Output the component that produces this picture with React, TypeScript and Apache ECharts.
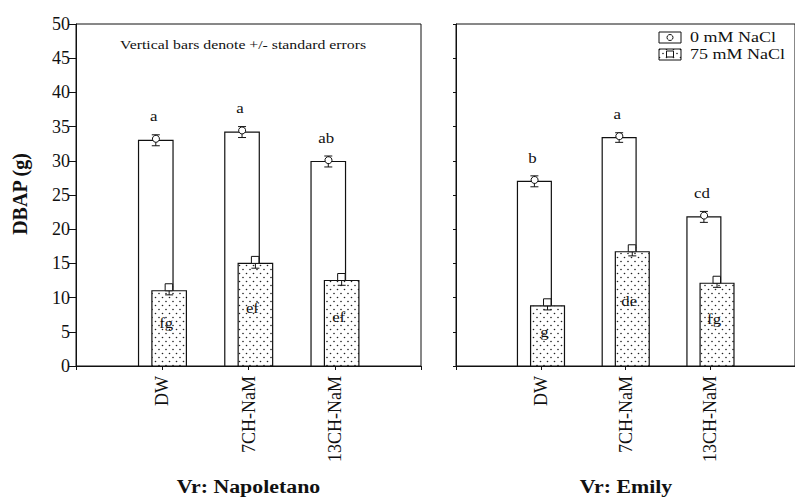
import React, { useEffect, useRef } from "react";
import * as echarts from "echarts";

const categories = ["DW", "7CH-NaM", "13CH-NaM"];
const yMax = 50;
const yInterval = 5;

const napoletano0 = [33.0, 34.2, 29.9];
const napoletano0Err = [0.8, 0.8, 0.8];
const napoletano75 = [11.0, 15.0, 12.5];
const napoletano75Err = [0.6, 0.7, 0.7];
const emily0 = [27.0, 33.4, 21.8];
const emily0Err = [0.8, 0.7, 0.8];
const emily75 = [8.8, 16.7, 12.1];
const emily75Err = [0.6, 0.6, 0.6];

const napoletano0Letters = ["a", "a", "ab"];
const napoletano75Letters = ["fg", "ef", "ef"];
const emily0Letters = ["b", "a", "cd"];
const emily75Letters = ["g", "de", "fg"];

const legendNames = ["0 mM NaCl", "75 mM NaCl"];
const panelTitles = ["Vr: Napoletano", "Vr: Emily"];
const note = "Vertical bars denote +/- standard errors";
const yName = "DBAP (g)";

const FONT = "Liberation Serif";
const INK = "#111";

function makePattern(): HTMLCanvasElement {
  const c = document.createElement("canvas");
  c.width = 7;
  c.height = 8;
  const ctx = c.getContext("2d")!;
  ctx.fillStyle = "#fff";
  ctx.fillRect(0, 0, 7, 8);
  ctx.fillStyle = "#222";
  ctx.beginPath();
  ctx.arc(1.5, 1.5, 0.8, 0, Math.PI * 2);
  ctx.fill();
  ctx.beginPath();
  ctx.arc(5, 5.5, 0.8, 0, Math.PI * 2);
  ctx.fill();
  return c;
}

export default function App() {
  const ref = useRef<HTMLDivElement>(null);
  useEffect(() => {
    if (!ref.current) return;
    const chart = echarts.init(ref.current, undefined, { renderer: "svg" });
    const pattern = makePattern();
    const patternFill: any = { image: pattern, repeat: "repeat" };

    const barSeries = (
      grid: number,
      values: number[],
      errs: number[],
      letters: string[],
      salt: boolean
    ) => ({
      type: "custom",
      xAxisIndex: grid,
      yAxisIndex: grid,
      data: values.map((v, i) => [i + 1, v, errs[i]]),
      renderItem: (params: any, api: any) => {
        const i = api.value(0);
        const v = api.value(1);
        const e = api.value(2);
        const unit = api.size([1, 0])[0];
        const w = unit * 0.4;
        const cx = api.coord([i, 0])[0] + (salt ? 0.08 : -0.075) * unit;
        const y0 = api.coord([i, 0])[1];
        const yTop = api.coord([i, v])[1];
        const yHi = api.coord([i, v + e])[1];
        const yLo = api.coord([i, v - e])[1];
        const capW = 4;
        const line = { stroke: INK, lineWidth: 1 };
        const children: any[] = [
          {
            type: "rect",
            shape: { x: cx - w / 2, y: yTop, width: w, height: y0 - yTop },
            style: { fill: salt ? patternFill : "#fff", stroke: INK, lineWidth: 1.2 },
          },
          { type: "line", shape: { x1: cx, y1: yHi, x2: cx, y2: yLo }, style: line },
          { type: "line", shape: { x1: cx - capW, y1: yHi, x2: cx + capW, y2: yHi }, style: line },
          { type: "line", shape: { x1: cx - capW, y1: yLo, x2: cx + capW, y2: yLo }, style: line },
        ];
        const letterStyle = (y: number, x: number) => ({
          type: "text",
          x,
          y,
          scaleX: 1.12,
          style: {
            text: letters[params.dataIndex],
            align: "center",
            verticalAlign: "middle",
            fontSize: 15,
            fontFamily: FONT,
            fill: INK,
          },
        });
        if (salt) {
          children.push({
            type: "rect",
            shape: { x: cx - 4, y: yTop - 7, width: 7.5, height: 7 },
            style: { fill: "#fff", stroke: INK, lineWidth: 1 },
          });
          children.push(letterStyle(api.coord([i, v * 0.57])[1], cx - 3));
        } else {
          children.push({
            type: "circle",
            shape: { cx: cx, cy: yTop - 2.5, r: 3.5 },
            style: { fill: "#fff", stroke: INK, lineWidth: 1 },
          });
          children.push(letterStyle(yTop - 24, cx - 2));
        }
        return { type: "group", children };
      },
    });

    const xAxis = (grid: number) => ({
      type: "value",
      gridIndex: grid,
      min: 0,
      max: 4,
      interval: 1,
      axisLine: { show: true, lineStyle: { color: INK, width: 1 } },
      axisTick: { show: true, length: 4, lineStyle: { color: INK } },
      splitLine: { show: false },
      axisLabel: {
        rotate: 90,
        margin: 10,
        fontSize: 18,
        fontFamily: FONT,
        color: INK,
        formatter: (v: number) => categories[v - 1] ?? "",
      },
    });

    const yAxis = (grid: number) => ({
      type: "value",
      gridIndex: grid,
      min: 0,
      max: yMax,
      interval: yInterval,
      axisLine: { show: true, lineStyle: { color: INK, width: 1 } },
      axisTick: { show: true, length: grid === 0 ? 7 : 3, lineStyle: { color: INK } },
      splitLine: { show: false },
      axisLabel: {
        show: grid === 0,
        margin: 6,
        fontSize: 18,
        fontFamily: FONT,
        color: INK,
      },
    });

    const txt = (
      x: number,
      y: number,
      text: string,
      size: number,
      bold: boolean,
      align: string,
      extra: any = {}
    ) => ({
      type: "text",
      x,
      y,
      ...extra,
      style: {
        text,
        align,
        verticalAlign: "middle",
        fontSize: size,
        fontFamily: FONT,
        fontWeight: bold ? "bold" : "normal",
        fill: INK,
      },
    });

    chart.setOption({
      animation: false,
      backgroundColor: "#fff",
      grid: [
        { left: 76, top: 24, width: 345, height: 342, show: true, borderColor: INK, borderWidth: 1 },
        { left: 456, top: 24, width: 345, height: 342, show: true, borderColor: INK, borderWidth: 1 },
      ],
      xAxis: [xAxis(0), xAxis(1)],
      yAxis: [yAxis(0), yAxis(1)],
      series: [
        barSeries(0, napoletano0, napoletano0Err, napoletano0Letters, false),
        barSeries(0, napoletano75, napoletano75Err, napoletano75Letters, true),
        barSeries(1, emily0, emily0Err, emily0Letters, false),
        barSeries(1, emily75, emily75Err, emily75Letters, true),
      ],
      graphic: [
        txt(20, 194, yName, 20, true, "center", { rotation: Math.PI / 2 }),
        txt(120, 44, note, 13.5, false, "left", { scaleX: 1.17 }),
        txt(248.5, 487, panelTitles[0], 19, true, "center", { scaleX: 1.15 }),
        txt(626, 487, panelTitles[1], 19, true, "center", { scaleX: 1.15 }),
        {
          type: "rect",
          shape: { x: 659, y: 32, width: 22, height: 11 },
          style: { fill: "#fff", stroke: INK, lineWidth: 1 },
        },
        {
          type: "circle",
          shape: { cx: 670, cy: 37.5, r: 3 },
          style: { fill: "#fff", stroke: INK, lineWidth: 1 },
        },
        {
          type: "rect",
          shape: { x: 659, y: 49, width: 22, height: 11 },
          style: { fill: patternFill, stroke: INK, lineWidth: 1 },
        },
        {
          type: "rect",
          shape: { x: 666.5, y: 51, width: 7, height: 6 },
          style: { fill: "#fff", stroke: INK, lineWidth: 1 },
        },
        txt(690, 37.5, legendNames[0], 15, false, "left", { scaleX: 1.2 }),
        txt(690, 54.5, legendNames[1], 15, false, "left", { scaleX: 1.2 }),
      ],
    });
    return () => chart.dispose();
  }, []);
  return (
    <div
      ref={ref}
      style={{ position: "fixed", left: 0, top: 0, width: 795, height: 501, background: "#fff" }}
    />
  );
}
